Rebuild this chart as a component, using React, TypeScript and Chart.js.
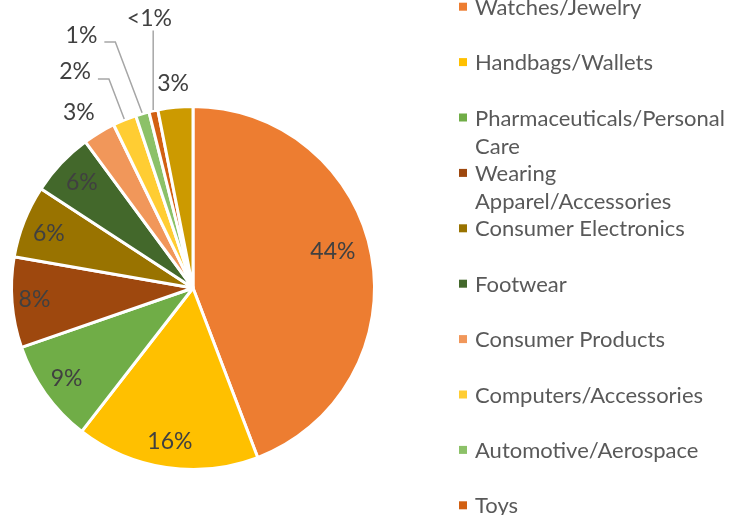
import React, { useEffect, useRef } from "react";
import { Chart, ArcElement, PieController } from "chart.js";

Chart.register(ArcElement, PieController);

// ---- data ----
const categories = [
  "Watches/Jewelry",
  "Handbags/Wallets",
  "Pharmaceuticals/Personal Care",
  "Wearing Apparel/Accessories",
  "Consumer Electronics",
  "Footwear",
  "Consumer Products",
  "Computers/Accessories",
  "Automotive/Aerospace",
  "Toys",
  "Other",
];
const shares = [44.2, 16.3, 9.2, 8.05, 6.45, 5.7, 2.9, 2.1, 1.2, 0.8, 3.1];
const valueLabels = ["44%", "16%", "9%", "8%", "6%", "6%", "3%", "2%", "1%", "<1%", "3%"];
const sliceColors = [
  "#ED7D31",
  "#FFC000",
  "#70AD47",
  "#9E480E",
  "#997300",
  "#43682B",
  "#F1975A",
  "#FFCD33",
  "#8CC168",
  "#D26012",
  "#CC9A00",
];

// ---- label placement (style): radius factor, angle nudge (deg), leader type ----
const labelPlacement: { r: number; da: number; leader?: "side" | "below" }[] = [
  { r: 0.797, da: -4.3 },
  { r: 0.854, da: 0.1 },
  { r: 0.856, da: 0.1 },
  { r: 0.876, da: 0.4 },
  { r: 0.849, da: -0.9 },
  { r: 0.843, da: 0 },
  { r: 1.153, da: -1.9 },
  { r: 1.356, da: -6.5, leader: "side" },
  { r: 1.523, da: -7.6, leader: "side" },
  { r: 1.504, da: 3.4, leader: "below" },
  { r: 1.129, da: 0 },
];

const FONT = "Lato, 'Open Sans', sans-serif";
const LABEL_FONT = `23px ${FONT}`;
const LEGEND_FONT = `22px ${FONT}`;

const labelPlugin = {
  id: "sliceLabels",
  afterDatasetsDraw(chart: any) {
    const ctx = chart.ctx;
    const meta = chart.getDatasetMeta(0);
    ctx.save();
    ctx.font = LABEL_FONT;
    ctx.textAlign = "center";
    ctx.textBaseline = "middle";
    meta.data.forEach((arc: any, i: number) => {
      const p = labelPlacement[i];
      const { x, y, startAngle, endAngle, outerRadius } = arc.getProps(
        ["x", "y", "startAngle", "endAngle", "outerRadius"],
        true
      );
      const mid = (startAngle + endAngle) / 2;
      const a = mid + (p.da * Math.PI) / 180;
      const lx = x + Math.cos(a) * outerRadius * p.r;
      const ly = y + Math.sin(a) * outerRadius * p.r;
      const ex = x + Math.cos(mid) * (outerRadius + 1);
      const ey = y + Math.sin(mid) * (outerRadius + 1);
      const w = ctx.measureText(valueLabels[i]).width;
      if (p.leader) {
        ctx.strokeStyle = "#A6A6A6";
        ctx.lineWidth = 1.5;
        ctx.beginPath();
        if (p.leader === "side") {
          const sx = lx + w / 2 + 7;
          const sy = ly + 7;
          ctx.moveTo(sx, sy);
          ctx.lineTo(sx + 11, sy);
          ctx.lineTo(ex, ey);
        } else {
          ctx.moveTo(ex, ly + 12);
          ctx.lineTo(ex, ey);
        }
        ctx.stroke();
      }
      ctx.fillStyle = "#404040";
      ctx.fillText(valueLabels[i], lx, ly);
    });
    ctx.restore();
  },
};

const legendPlugin = {
  id: "sideLegend",
  afterDraw(chart: any) {
    const ctx = chart.ctx;
    const x0 = 459;
    const tx = 475;
    const y0 = 6.7;
    const step = 55.4;
    const lineH = 28.5;
    const maxW = chart.width - tx;
    ctx.save();
    ctx.font = LEGEND_FONT;
    ctx.textAlign = "left";
    ctx.textBaseline = "middle";
    categories.forEach((name, i) => {
      const y = y0 + i * step;
      ctx.fillStyle = sliceColors[i];
      ctx.fillRect(x0, y - 4, 8, 8);
      // word wrap
      const words = name.split(" ");
      const lines: string[] = [];
      let cur = "";
      words.forEach((wd) => {
        const test = cur ? cur + " " + wd : wd;
        if (cur && ctx.measureText(test).width > maxW) {
          lines.push(cur);
          cur = wd;
        } else cur = test;
      });
      if (cur) lines.push(cur);
      ctx.fillStyle = "#595959";
      lines.forEach((ln, k) => ctx.fillText(ln, tx, y + 1 + k * lineH));
    });
    ctx.restore();
  },
};

export default function App() {
  const ref = useRef<HTMLCanvasElement>(null);
  useEffect(() => {
    if (!ref.current) return;
    const chart = new Chart(ref.current, {
      type: "pie",
      data: {
        labels: categories,
        datasets: [
          {
            data: shares,
            backgroundColor: sliceColors,
            borderColor: "#FFFFFF",
            borderWidth: 3,
          },
        ],
      },
      options: {
        responsive: false,
        animation: false,
        events: [],
        layout: { padding: { left: 10, right: 354, top: 105, bottom: 44 } },
        plugins: { legend: { display: false }, tooltip: { enabled: false } },
      },
      plugins: [labelPlugin, legendPlugin],
    });
    return () => chart.destroy();
  }, []);
  return (
    <div style={{ position: "fixed", left: 0, top: 0, width: 730, height: 515, background: "#fff" }}>
      <canvas ref={ref} width={730} height={515} style={{ width: 730, height: 515 }} />
    </div>
  );
}
